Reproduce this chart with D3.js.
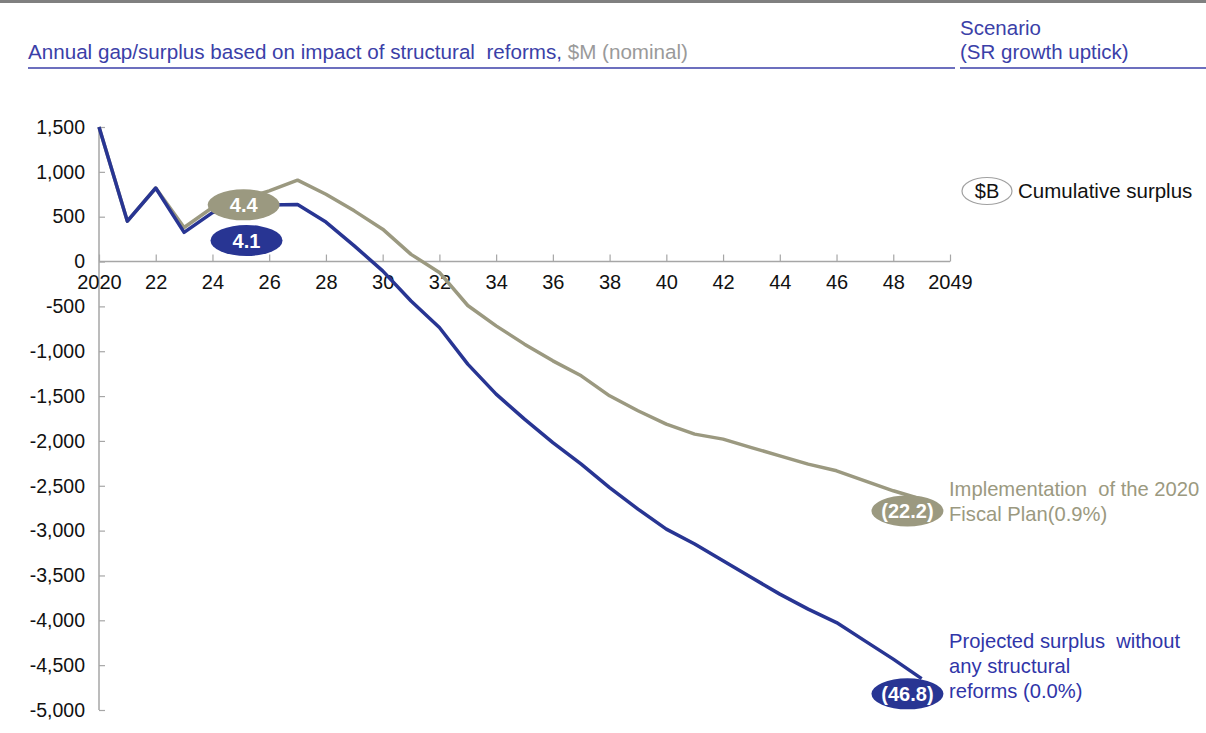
<!DOCTYPE html>
<html>
<head>
<meta charset="utf-8">
<script src="https://cdn.jsdelivr.net/npm/d3@7"></script>
<style>
  html, body { margin: 0; padding: 0; background: #fff; }
  svg { display: block; font-family: "Liberation Sans", Arial, sans-serif; }
</style>
</head>
<body>
<svg id="chart" width="1206" height="733"></svg>
<script>
// ---- data ----
const years = [2020, 2021, 2022, 2023, 2024, 2025, 2026, 2027, 2028, 2029,
               2030, 2031, 2032, 2033, 2034, 2035, 2036, 2037, 2038, 2039,
               2040, 2041, 2042, 2043, 2044, 2045, 2046, 2047, 2048, 2049];
const noReforms = [1500, 450, 820, 325, 546, 610, 629, 635, 440, 175,
                   -104, -440, -736, -1144, -1478, -1757, -2018, -2259, -2520, -2760,
                   -2983, -3150, -3337, -3523, -3708, -3875, -4025, -4229, -4433, -4650];
const fiscalPlan = [1500, 450, 820, 380, 603, 690, 788, 907, 750, 565,
                    361, 80, -122, -490, -717, -921, -1107, -1274, -1497, -1664,
                    -1813, -1924, -1980, -2074, -2166, -2259, -2333, -2445, -2556, -2650];
const xTickValues = [2020, 2022, 2024, 2026, 2028, 2030, 2032, 2034, 2036, 2038, 2040, 2042, 2044, 2046, 2048, 2050];
const xTickLabels = ["2020", "22", "24", "26", "28", "30", "32", "34", "36", "38", "40", "42", "44", "46", "48", "2049"];
const yTickValues = [1500, 1000, 500, 0, -500, -1000, -1500, -2000, -2500, -3000, -3500, -4000, -4500, -5000];
// cumulative surplus bubbles ($B): label, year position, value position, series
const bubbles = [
  {label: "4.4",    year: 2025.1, value: 632,   series: "plan"},
  {label: "4.1",    year: 2025.2, value: 235,   series: "none"},
  {label: "(22.2)", year: 2048.5, value: -2780, series: "plan"},
  {label: "(46.8)", year: 2048.5, value: -4820, series: "none"}
];
const planLabel = ["Implementation  of the 2020", "Fiscal Plan(0.9%)"];
const noneLabel = ["Projected surplus  without", "any structural", "reforms (0.0%)"];

// ---- styles ----
const BLUE = "#283593";
const GRAY = "#9b9980";
const TITLE_BLUE = "#3b3fa8";
const AXIS = "#a6a6a6";

const svg = d3.select("#chart");

// header
svg.append("rect").attr("x", 0).attr("y", 0).attr("width", 1206).attr("height", 3).attr("fill", "#808080");
const title = svg.append("text").attr("x", 28).attr("y", 59)
  .attr("font-size", 20.5).attr("fill", TITLE_BLUE)
  .attr("textLength", 660).attr("lengthAdjust", "spacingAndGlyphs").style("white-space", "pre");
title.append("tspan").text("Annual gap/surplus based on impact of structural  reforms, ");
title.append("tspan").attr("fill", "#9a9a9a").text("$M (nominal)");
svg.append("line").attr("x1", 28).attr("x2", 955).attr("y1", 68).attr("y2", 68)
  .attr("stroke", TITLE_BLUE).attr("stroke-width", 1.5);
svg.append("text").attr("x", 960).attr("y", 35).attr("font-size", 20.5).attr("fill", TITLE_BLUE).text("Scenario");
svg.append("text").attr("x", 960).attr("y", 59).attr("font-size", 20.5).attr("fill", TITLE_BLUE).text("(SR growth uptick)");
svg.append("line").attr("x1", 960).attr("x2", 1206).attr("y1", 68).attr("y2", 68)
  .attr("stroke", TITLE_BLUE).attr("stroke-width", 1.5);

// scales
const x = d3.scaleLinear().domain([2020, 2050]).range([99, 950]);
const y = d3.scaleLinear().domain([-5000, 1500]).range([710, 127]);
const fmt = d3.format(",");
const yFmt = d => fmt(d).replace("\u2212", "-");

// y axis
const yAxis = svg.append("g").attr("transform", `translate(${x(2020)},0)`)
  .call(d3.axisRight(y).tickValues(yTickValues).tickSize(6).tickFormat(yFmt));
yAxis.select(".domain").attr("stroke", AXIS).attr("stroke-width", 1.5).attr("d", `M0,${y(1500)}V${y(-5000)}`);
yAxis.selectAll(".tick line").attr("stroke", AXIS).attr("stroke-width", 1.2);
yAxis.selectAll(".tick text").attr("x", -14).attr("text-anchor", "end")
  .attr("font-size", 19.5).attr("fill", "#111").attr("font-family", "Liberation Sans, Arial, sans-serif");

// x axis at zero
const xAxis = svg.append("g").attr("transform", `translate(0,${y(0)})`)
  .call(d3.axisTop(x).tickValues(xTickValues).tickSize(7).tickFormat((d, i) => xTickLabels[i]));
xAxis.select(".domain").attr("stroke", AXIS).attr("stroke-width", 1.5).attr("d", `M${x(2020)},0H${x(2050)}`);
xAxis.selectAll(".tick line").attr("stroke", AXIS).attr("stroke-width", 1.2);
xAxis.selectAll(".tick text").attr("y", 27).attr("dy", 0)
  .attr("font-size", 20).attr("fill", "#111").attr("font-family", "Liberation Sans, Arial, sans-serif");

// lines
const line = d3.line().x((d, i) => x(years[i])).y(d => y(d));
svg.append("path").datum(fiscalPlan).attr("d", line)
  .attr("fill", "none").attr("stroke", GRAY).attr("stroke-width", 3.5).attr("stroke-linejoin", "round");
svg.append("path").datum(noReforms).attr("d", line)
  .attr("fill", "none").attr("stroke", BLUE).attr("stroke-width", 3.5).attr("stroke-linejoin", "round");

// bubbles
bubbles.forEach(b => {
  const g = svg.append("g").attr("transform", `translate(${x(b.year)},${y(b.value)})`);
  g.append("ellipse").attr("rx", 36).attr("ry", 15.5)
    .attr("fill", b.series === "plan" ? GRAY : BLUE);
  g.append("text").attr("text-anchor", "middle").attr("dy", "0.36em")
    .attr("font-size", 20).attr("font-weight", "bold").attr("fill", "#fff").text(b.label);
});

// legend
const lg = svg.append("g").attr("transform", "translate(987,191)");
lg.append("ellipse").attr("rx", 25).attr("ry", 13.5).attr("fill", "#fff").attr("stroke", "#a0a0a0").attr("stroke-width", 1.2);
lg.append("text").attr("text-anchor", "middle").attr("dy", "0.36em").attr("font-size", 20).attr("fill", "#111").text("$B");
svg.append("text").attr("x", 1018).attr("y", 198).attr("font-size", 20.5).attr("fill", "#111").text("Cumulative surplus");

// series labels
planLabel.forEach((t, i) => {
  svg.append("text").attr("x", 949).attr("y", 496 + i * 25).attr("font-size", 20.2)
    .attr("fill", GRAY).style("white-space", "pre").text(t);
});
noneLabel.forEach((t, i) => {
  svg.append("text").attr("x", 949).attr("y", 648 + i * 25).attr("font-size", 20.2)
    .attr("fill", "#3035a8").style("white-space", "pre").text(t);
});
</script>
</body>
</html>
